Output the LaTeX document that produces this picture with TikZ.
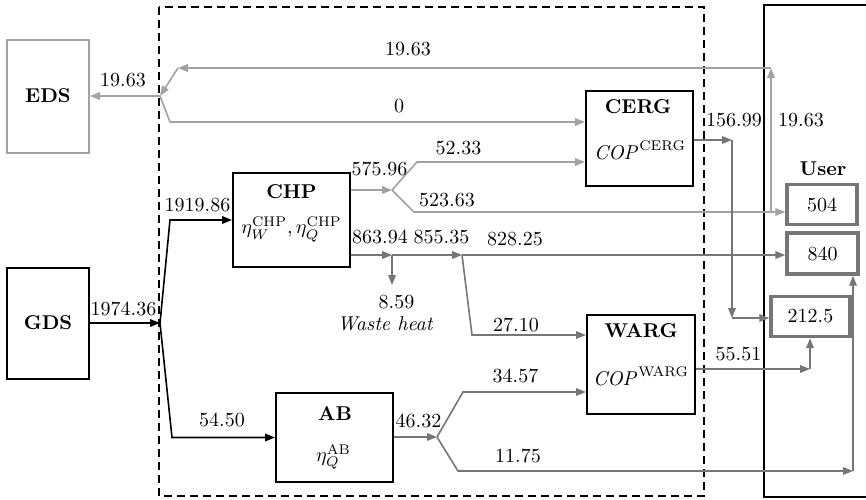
\documentclass[tikz,border=0pt]{standalone}
\definecolor{elecGray}{RGB}{162,162,162}
\definecolor{heatGray}{RGB}{118,118,118}
\usepackage{amsmath,amssymb}
\usepackage{tikz}
\usetikzlibrary{arrows.meta,positioning,calc}

\begin{document}
\begin{tikzpicture}[x=0.5pt,y=-0.5pt,
  box/.style={draw, line width=1pt, inner sep=0pt},
  demand/.style={draw=heatGray, line width=1.7pt, inner sep=0pt,
    minimum width=35pt, minimum height=20pt},
  ttl/.style={font=\bfseries, inner sep=0pt},
  val/.style={inner sep=0pt},
  flow/.style={->, line width=0.8pt},
  eflow/.style={flow, elecGray},
  hflow/.style={flow, heatGray},
  >={Triangle[length=5pt,width=3.8pt]}
  ]
  \useasboundingbox (0,0) rectangle (866,499);
  \draw[dashed, dash pattern=on 4pt off 2.5pt, line width=0.8pt] (159,7) rectangle (704,496);
  \draw[line width=1pt] (868,5) -- (764,5) -- (764,497) -- (868,497);

  \node[box, draw=elecGray, minimum width=41pt, minimum height=56.5pt, font=\bfseries] (eds) at (48,96) {EDS};
  \node[box, minimum width=41pt, minimum height=55.5pt, font=\bfseries] (gds) at (48,323) {GDS};
  \node[box, minimum width=58.5pt, minimum height=47pt] (chp) at (291.5,220) {};
  \node[ttl] (chpT) at (291.5,191.5) {CHP};
  \node[val] (chpE) at (291.5,229.5) {$\eta_W^{\mathrm{CHP}},\eta_Q^{\mathrm{CHP}}$};
  \node[box, minimum width=53.5pt, minimum height=47.5pt] (cerg) at (639.5,138.5) {};
  \node[ttl] (cergT) at (638,106.5) {CERG};
  \node[val] (cergC) at (640,150) {$\mathit{COP}^{\mathrm{CERG}}$};
  \node[box, minimum width=54pt, minimum height=49.5pt] (warg) at (641,364.5) {};
  \node[ttl] (wargT) at (641,330.5) {WARG};
  \node[val] (wargC) at (641,376) {$\mathit{COP}^{\mathrm{WARG}}$};
  \node[box, minimum width=58.5pt, minimum height=44.5pt] (ab) at (334.5,437.5) {};
  \node[ttl] (abT) at (335,414) {AB};
  \node[val] (abE) at (333.5,457) {$\eta_Q^{\mathrm{AB}}$};

  \node[ttl] (user) at (823,169) {User};
  \node[demand] (u504) at (822,204.5) {504};
  \node[demand, minimum width=35.5pt, minimum height=20.5pt] (u840) at (822.5,253.5) {840};
  \node[demand, minimum width=39.5pt] (u212) at (810.5,316.5) {212.5};

  \coordinate (gsplit) at (160,323);
  \coordinate (esplit) at (160,96);
  \coordinate (csplit) at (392,190);
  \coordinate (hsplit) at (392,255);
  \coordinate (hsplit2) at (462,255);
  \coordinate (waste) at (392,285);
  \coordinate (ret) at (771,212);
  \coordinate (retTop) at (771,68);
  \coordinate (retL) at (178,68);
  \coordinate (cout) at (732,140);
  \coordinate (cdown) at (732,318);
  \coordinate (wout) at (810,369);
  \coordinate (asplit) at (437,437);
  \coordinate (acorner) at (853,471);

  % gas
  \draw[flow] (gds.east |- gsplit) -- (gsplit);
  \draw[flow] (gsplit) -- (170,220) -- (chp.west);
  \draw[flow] (gsplit) -- (172,437.5) -- (ab.west);
  % electricity
  \draw[eflow] (esplit) -- (eds.east);
  \draw[eflow] (esplit) -- (170,122) -- (170,122 -| cerg.west);
  \draw[eflow] (ret) -- (retTop);
  \draw[eflow] (retTop) -- (retL);
  \draw[eflow] (retL) -- (esplit);
  \draw[eflow] (chp.east |- csplit) -- (csplit);
  \draw[eflow] (csplit) -- (417,162) -- (417,162 -| cerg.west);
  \draw[eflow] (csplit) -- (414,212) -- (414,212 -| u504.west);
  % heat and cooling
  \draw[hflow] (chp.east |- hsplit) -- (hsplit);
  \draw[hflow] (hsplit) -- (hsplit2);
  \draw[hflow] (hsplit) -- (waste);
  \draw[hflow] (hsplit2) -- (hsplit2 -| u840.west);
  \draw[hflow] (hsplit2) -- (472,335) -- (472,335 -| warg.west);
  \draw[hflow] (cerg.east |- cout) -- (cout);
  \draw[hflow] (cout) -- (cdown);
  \draw[hflow] (cdown) -- (cdown -| u212.west);
  \draw[hflow] (warg.east |- wout) -- (wout);
  \draw[hflow] (wout) -- (wout |- u212.south);
  \draw[hflow] (ab.east |- asplit) -- (asplit);
  \draw[hflow] (asplit) -- (463,392) -- (463,392 -| warg.west);
  \draw[hflow] (asplit) -- (458,471) -- (acorner);
  \draw[hflow] (acorner) -- (acorner |- u840.south);

  \node[val] (v1974) at (123.5,309) {1974.36};
  \node[val] (v1919) at (197.5,205) {1919.86};
  \node[val] (v5450) at (222,420) {54.50};
  \node[val] (vEds) at (123,80.5) {19.63};
  \node[val] (vRet) at (408,49) {19.63};
  \node[val] (vZero) at (399,106.5) {0};
  \node[val] (vRetR) at (801,120) {19.63};
  \node[val] (vCerg) at (734,120) {156.99};
  \node[val] (v57596) at (379.5,168.5) {575.96};
  \node[val] (v5233) at (458.5,148.5) {52.33};
  \node[val] (v52363) at (447,200) {523.63};
  \node[val] (v86394) at (380,236.5) {863.94};
  \node[val] (v85535) at (441.5,237) {855.35};
  \node[val] (v82825) at (515,239) {828.25};
  \node[val] (v859) at (396.5,302.5) {8.59};
  \node[val, font=\itshape] (wasteT) at (385,324) {Waste heat};
  \node[val] (v2710) at (516,324.5) {27.10};
  \node[val] (v3457) at (515.5,375.5) {34.57};
  \node[val] (v4632) at (418.5,421) {46.32};
  \node[val] (v1175) at (518,455.5) {11.75};
  \node[val] (v5551) at (738.5,354.5) {55.51};
\end{tikzpicture}
\end{document}
